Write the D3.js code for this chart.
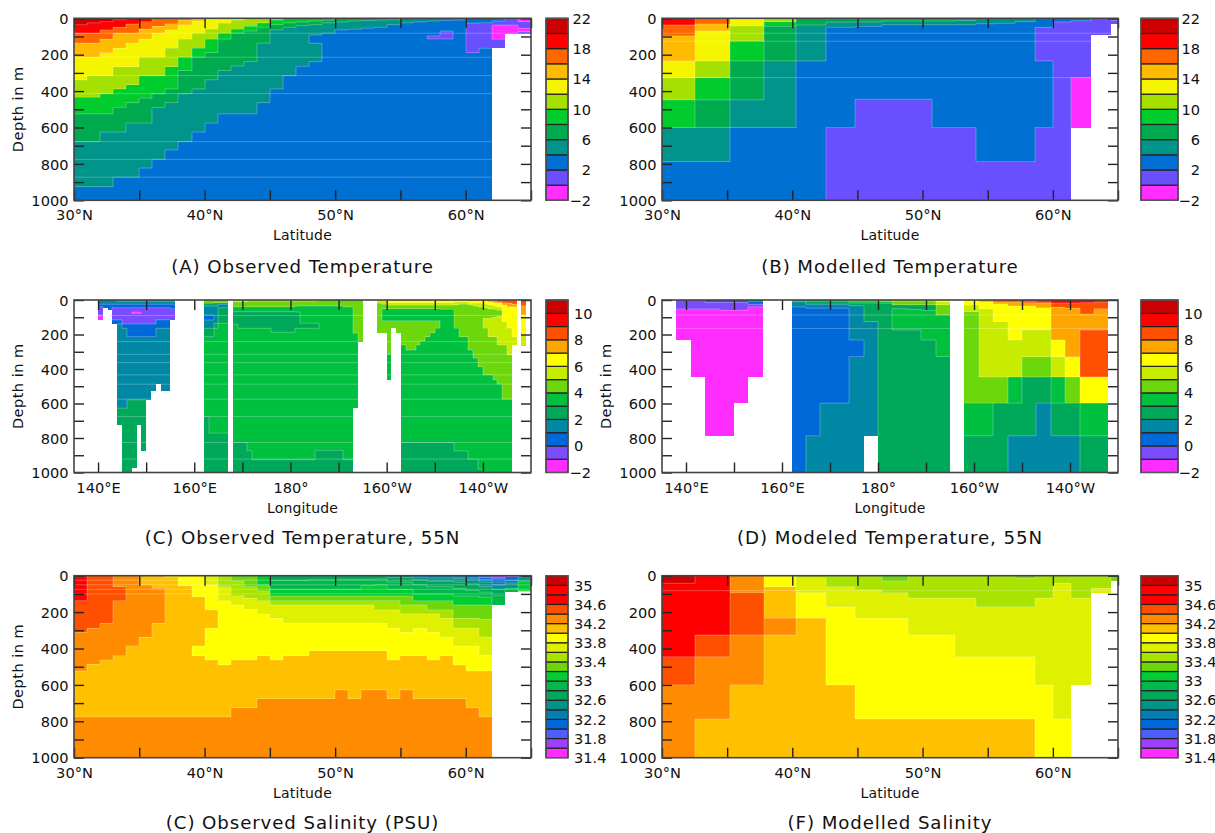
<!DOCTYPE html>
<html><head><meta charset="utf-8">
<script src="https://cdnjs.cloudflare.com/ajax/libs/d3/7.8.5/d3.min.js"></script>
<style>html,body{margin:0;padding:0;background:#fff}svg{display:block}text{font-family:"DejaVu Sans",sans-serif;fill:#111}</style>
</head><body><svg id="c" width="1215" height="833"></svg>
<script>
// colour classes
const tempLevels=[-2,0,2,4,6,8,10,12,14,16,18,20,22];
const tempColors=["#ff2dff","#6a4fff","#0070d2","#00948a","#00ab50","#00cc2d","#a5e100","#f5f500","#ffbb00","#ff6600","#ff0000","#cc0000"];
const tempLabels=[-2,2,6,10,14,18,22];
const sectLevels=[-2,-1,0,1,2,3,4,5,6,7,8,9,10,11];
const sectColors=["#ff2dff","#7b4dff","#0068d8","#0088a5","#00a85a","#00c040","#6cd80c","#c8ec00","#ffff00","#ffa500","#ff5000","#ff0000","#cc0000"];
const sectLabels=[-2,0,2,4,6,8,10];
const saltLevels=[31.4,31.6,31.8,32,32.2,32.4,32.6,32.8,33,33.2,33.4,33.6,33.8,34,34.2,34.4,34.6,34.8,35,35.2];
const saltColors=["#ff2dff","#a040ff","#4f5fff","#0068d8","#0080b4","#009488","#00a85a","#00b84c","#00cc33","#6cd80c","#a8e400","#dff000","#ffff00","#ffc000","#ff8c00","#ff5000","#ff0000","#ff0000","#cc0000"];
const saltLabels=[31.4,31.8,32.2,32.6,33,33.4,33.8,34.2,34.6,35];

// grid edges
const obsLatEdges=[30,31,32,33,34,35,36,37,38,39,40,41,42,43,44,45,46,47,48,49,50,51,52,53,54,55,56,57,58,59,60,61,62,63,64,65];
const modelLatEdges=[30,32.5,35.24,37.8,40.3,42.6,44.8,46.9,48.9,50.7,52.5,54.1,55.6,57.1,58.6,60,61.4,62.9,64.5,65];
const obsLonEdges=[135,140,141,142,143,144,145,146,147,148,149,150,151,152,153,155,156,162,163,164,165,167,168,169,171,172,176,181,182,185,186,191,193,194,195,198,199,200,201,202,203,204,206,207,208,209,210,211,214,215,217,218,219,220,221,222,223,224,225,226,227,228,229,230];
const modelLonEdges=[135,138,141,144,147,150,153,156,162,165,168,171,174,177,180,183,186,189,192,195,198,201,204,207,210,213,216,219,222,225,228,230];

// each column: value, bottom depth, value, bottom depth ...
const obsTemp=[
[21,35,19,82,17,137,15,214,13,338,11,435,9,525,7,677,5,925,3,1000],
[21,25,19,82,17,137,15,214,13,315,11,435,9,525,7,677,5,925,3,1000],
[21,18,19,64,17,115,15,188,13,315,11,414,9,525,7,625,5,925,3,1000],
[21,8,19,50,17,82,15,165,13,265,11,388,9,490,7,625,5,873,3,1000],
[19,32,17,82,15,137,13,265,11,364,9,463,7,576,5,873,3,1000],
[19,18,17,60,15,115,13,214,11,315,9,439,7,576,5,823,3,1000],
[17,45,15,82,13,214,11,315,9,414,7,490,5,775,3,1000],
[17,30,15,64,13,165,11,265,9,388,7,463,5,723,3,1000],
[17,10,15,36,13,115,11,214,9,287,7,414,5,677,3,1000],
[15,15,13,82,11,165,9,214,7,388,5,625,3,1000],
[13,60,11,115,9,188,7,338,5,576,3,1000],
[13,27,11,82,9,115,7,287,5,525,3,1000],
[13,10,11,60,9,82,7,262,5,525,3,1000],
[11,45,9,70,7,238,5,525,3,1000],
[11,25,9,50,7,137,5,463,3,1000],
[11,10,9,35,7,64,5,388,3,1000],
[9,25,7,50,5,315,3,1000],
[9,20,7,40,5,264,3,1000],
[9,15,7,35,5,92,3,137,5,238,3,1000],
[9,10,7,25,5,82,3,1000],
[7,20,5,64,3,1000],
[7,15,5,60,3,1000],
[7,12,5,55,3,1000],
[7,10,5,50,3,1000],
[7,8,5,35,3,1000],
[5,25,3,1000],
[5,20,3,1000],
[5,15,3,97,1,113,3,1000],
[5,12,3,70,1,113,3,1000],
[5,10,3,1000],
[3,27,1,189,3,1000],
[3,24,1,165,3,1000],
[3,15,1,37,-1,115,1,161],
[1,37,-1,85],
[-1,18,1,55,-1,73,1,85]];
const modelTemp=[
[19,37,17,97,15,234,13,326,11,448,9,600,5,787,3,1000],
[17,31,15,70,13,234,11,326,9,448,7,600,5,787,3,1000],
[13,42,11,126,9,234,7,448,5,600,3,1000],
[11,18,9,45,7,234,5,600,3,1000],
[7,37,5,234,3,1000],
[7,22,5,50,3,600,1,1000],
[7,20,5,45,3,445,1,1000],
[7,15,5,35,3,445,1,1000],
[7,15,5,35,3,445,1,1000],
[7,15,5,35,3,600,1,1000],
[7,12,5,35,3,600,1,1000],
[5,30,3,787,1,1000],
[5,28,3,787,1,1000],
[5,18,3,787,1,1000],
[3,50,1,234,3,600,1,1000],
[3,20,1,1000],
[3,13,1,326,-1,600],
[1,90],
[3,12,1,30]];
const obsSection=[
[],
[1.5,25,.5,38,-.5,87,-1.5,116],
[1.5,25,.5,44],
[1.5,25,.5,60],
[1.5,25,.5,44,-.5,115,.5,139],
[2.5,8,1.5,25,.5,44,-.5,115,.5,139,1.5,627,2.5,724],
[2.5,8,1.5,25,.5,44,-.5,139,.5,164,1.5,627,2.5,1000],
[2.5,8,1.5,25,.5,44,-.5,139,.5,212,1.5,579,2.5,1000],
[2.5,8,1.5,25,.5,44,-.5,70,-1.5,78,-.5,139,.5,212,1.5,579,2.5,975],
[2.5,8,1.5,25,.5,44,-.5,70,-1.5,78,-.5,139,.5,212,1.5,579,2.5,724],
[2.5,8,1.5,25,.5,44,-.5,139,.5,212,1.5,579,2.5,874],
[2.5,8,1.5,25,.5,44,-.5,139,.5,212,1.5,579],
[2.5,8,1.5,25,.5,44,-.5,139,.5,212,1.5,525],
[2.5,8,1.5,25,.5,44,-.5,115,.5,164,1.5,488],
[2.5,8,1.5,25,.5,44,-.5,115,.5,164,1.5,527],
[2.5,8,1.5,25,.5,50,-.5,115],
[],
[4.5,20,2.5,35,1.5,87,.5,116,1.5,164,2.5,212,3.5,675,2.5,1000],
[4.5,20,2.5,35,1.5,87,.5,116,1.5,164,2.5,212,3.5,772,2.5,1000],
[4.5,15,2.5,35,1.5,135,2.5,164,3.5,772,2.5,1000],
[4.5,15,2.5,25,1.5,45,2.5,135,3.5,772,2.5,1000],
[],
[5.5,10,4.5,39,3.5,68,2.5,140,3.5,826,2.5,1000],
[5.5,10,4.5,39,3.5,68,2.5,164,3.5,826,2.5,1000],
[5.5,8,4.5,39,3.5,68,2.5,164,3.5,874,2.5,1000],
[5.5,8,4.5,39,3.5,68,2.5,164,3.5,926,2.5,1000],
[5.5,8,4.5,39,3.5,68,2.5,187,3.5,926,2.5,1000],
[5.5,8,4.5,35,3.5,70,2.5,164,3.5,926,2.5,1000],
[5.5,8,4.5,35,3.5,135,2.5,164,3.5,926,2.5,1000],
[5.5,5,4.5,35,3.5,135,2.5,164,3.5,872,2.5,1000],
[4.5,35,3.5,872,2.5,1000],
[4.5,40,3.5,926,2.5,1000],
[4.5,193,3.5,627],
[4.5,241],
[],
[6.5,5,5.5,20,4.5,189],
[6.5,5,5.5,25,4.5,50,3.5,120,4.5,189],
[6.5,15,5.5,30,4.5,50,3.5,120,4.5,315,3.5,463],
[6.5,15,5.5,30,4.5,50,3.5,120,4.5,164],
[6.5,15,5.5,30,4.5,50,3.5,120,4.5,189],
[6.5,15,5.5,30,4.5,50,3.5,120,4.5,260,3.5,826,2.5,1000],
[6.5,15,5.5,30,4.5,50,3.5,120,4.5,290,3.5,826,2.5,1000],
[6.5,15,5.5,30,4.5,50,3.5,120,4.5,260,3.5,826,2.5,1000],
[6.5,15,5.5,30,4.5,50,3.5,120,4.5,237,3.5,826,2.5,1000],
[6.5,15,5.5,30,4.5,50,3.5,120,4.5,212,3.5,826,2.5,1000],
[6.5,15,5.5,30,4.5,50,3.5,120,4.5,189,3.5,826,2.5,1000],
[6.5,15,5.5,30,4.5,50,3.5,120,4.5,164,3.5,826,2.5,1000],
[6.5,15,5.5,30,4.5,55,3.5,826,2.5,1000],
[6.5,12,5.5,27,4.5,164,3.5,875,2.5,1000],
[6.5,10,5.5,25,4.5,212,3.5,875,2.5,1000],
[7.5,5,6.5,20,5.5,30,4.5,290,3.5,924,2.5,1000],
[7.5,5,6.5,20,5.5,35,4.5,338,3.5,924,2.5,1000],
[7.5,5,6.5,20,5.5,40,4.5,386,3.5,980,2.5,1000],
[7.5,8,6.5,25,5.5,45,4.5,106,5.5,164,4.5,434,3.5,1000],
[7.5,12,6.5,30,5.5,50,4.5,106,5.5,212,4.5,434,3.5,1000],
[8.5,5,7.5,15,6.5,35,5.5,55,4.5,100,5.5,212,4.5,463,3.5,1000],
[8.5,10,7.5,20,6.5,40,5.5,60,4.5,95,5.5,260,4.5,488,3.5,1000],
[8.5,15,7.5,28,6.5,125,5.5,260,4.5,575,3.5,1000],
[8.5,20,7.5,38,6.5,164,5.5,318,4.5,575,3.5,1000],
[8.5,25,7.5,40,6.5,212,5.5,260],
[],
[8.5,33,7.5,87,6.5,203,5.5,266],
[]];
const modelSection=[
[],
[-.5,52,-1.5,232],
[-.5,52,-1.5,446],
[.5,14,-.5,52,-1.5,787],
[.5,14,-.5,60,-1.5,787],
[.5,14,-.5,60,-1.5,598],
[2.5,8,.5,25,-.5,40,-1.5,446],
[],
[3.5,10,1.5,40,.5,1000],
[3.5,8,2.5,25,1.5,48,.5,787,1.5,1000],
[3.5,8,2.5,25,1.5,48,.5,598,1.5,1000],
[3.5,8,2.5,25,1.5,48,.5,598,1.5,1000],
[4.5,8,3.5,18,2.5,33,1.5,232,.5,328,1.5,1000],
[4.5,8,3.5,18,2.5,125,1.5,787],
[4.5,10,3.5,20,2.5,1000],
[5.5,8,4.5,27,2.5,50,3.5,174,2.5,1000],
[5.5,8,4.5,27,2.5,55,3.5,174,2.5,1000],
[5.5,8,4.5,27,2.5,60,3.5,232,2.5,1000],
[6.5,10,5.5,27,4.5,87,3.5,328,2.5,1000],
[],
[6.5,29,5.5,68,4.5,598,3.5,787,2.5,1000],
[7.5,10,6.5,52,5.5,446,4.5,598,3.5,787,2.5,1000],
[8.5,10,7.5,22,6.5,125,5.5,446,4.5,598,2.5,1000],
[8.5,12,7.5,35,6.5,232,5.5,446,3.5,598,2.5,787,1.5,1000],
[9.5,5,8.5,15,7.5,35,6.5,174,5.5,328,4.5,446,2.5,787,1.5,1000],
[9.5,10,8.5,18,7.5,45,6.5,174,5.5,328,4.5,446,2.5,598,1.5,1000],
[9.5,18,8.5,43,7.5,232,6.5,328,5.5,446,3.5,598,2.5,787,1.5,1000],
[9.5,18,8.5,48,7.5,328,6.5,446,4.5,598,2.5,787,1.5,1000],
[9.5,15,8.5,82,7.5,174,8.5,446,6.5,598,3.5,787,2.5,1000],
[9.5,12,8.5,50,7.5,174,8.5,446,6.5,598,3.5,787,2.5,1000],
[]];
const obsSalt=[
[34.7,137,34.5,311,34.3,524,34.1,775,34.3,1000],
[34.5,290,34.3,487,34.1,775,34.3,1000],
[34.5,262,34.3,463,34.1,775,34.3,1000],
[34.3,60,34.5,137,34.3,439,34.1,775,34.3,1000],
[34.3,386,34.1,775,34.3,1000],
[34.1,51,34.3,339,34.1,775,34.3,1000],
[34.1,70,34.3,262,34.1,775,34.3,1000],
[33.9,8,34.1,775,34.3,1000],
[33.9,55,34.1,775,34.3,1000],
[33.9,115,34.1,386,33.9,439,34.1,775,34.3,1000],
[33.7,50,33.9,188,34.1,289,33.9,463,34.1,775,34.3,1000],
[33.5,60,33.7,137,33.9,490,34.1,775,34.3,1000],
[33.3,30,33.5,110,33.7,161,33.9,463,34.1,725,34.3,1000],
[33.3,60,33.5,125,33.7,185,33.9,463,34.1,725,34.3,1000],
[33.1,50,33.3,85,33.5,137,33.7,210,33.9,439,34.1,675,34.3,1000],
[32.7,25,32.9,75,33.1,112,33.3,137,33.5,161,33.7,235,33.9,463,34.1,675,34.3,1000],
[32.7,25,32.9,75,33.1,112,33.3,137,33.5,161,33.7,262,33.9,439,34.1,675,34.3,1000],
[32.7,25,32.9,75,33.1,112,33.3,137,33.5,161,33.7,262,33.9,439,34.1,675,34.3,1000],
[32.7,22,32.9,75,33.1,112,33.3,137,33.5,161,33.7,262,33.9,412,34.1,675,34.3,1000],
[32.7,22,32.9,75,33.1,112,33.3,137,33.5,161,33.7,262,33.9,412,34.1,675,34.3,1000],
[32.7,20,32.9,75,33.1,112,33.3,137,33.5,161,33.7,262,33.9,412,34.1,627,34.3,1000],
[32.7,20,32.9,75,33.1,112,33.3,137,33.5,161,33.7,262,33.9,412,34.1,675,34.3,1000],
[32.7,20,32.9,55,33.1,112,33.3,137,33.5,161,33.7,262,33.9,412,34.1,627,34.3,1000],
[32.7,18,32.9,50,33.1,112,33.3,137,33.5,188,33.7,262,33.9,412,34.1,627,34.3,1000],
[32.5,10,32.7,35,32.9,75,33.1,112,33.3,137,33.5,188,33.7,289,33.9,463,34.1,675,34.3,1000],
[32.5,10,32.7,35,32.9,75,33.1,112,33.3,161,33.5,210,33.7,311,33.9,439,34.1,627,34.3,1000],
[32.3,8,32.5,22,32.7,50,32.9,100,33.1,137,33.3,161,33.5,210,33.7,289,33.9,439,34.1,675,34.3,1000],
[32.3,12,32.5,30,32.7,60,32.9,100,33.1,137,33.3,188,33.5,210,33.7,311,33.9,463,34.1,675,34.3,1000],
[32.3,12,32.5,30,32.7,60,32.9,100,33.1,137,33.3,188,33.5,235,33.7,337,33.9,439,34.1,675,34.3,1000],
[32.1,8,32.3,15,32.5,35,32.7,70,32.9,112,33.1,161,33.3,235,33.5,289,33.7,386,33.9,490,34.1,675,34.3,1000],
[32.1,10,32.3,18,32.5,45,32.7,80,32.9,112,33.1,161,33.3,235,33.5,289,33.7,386,33.9,523,34.1,725,34.3,1000],
[31.9,10,32.1,20,32.3,35,32.5,60,32.7,90,32.9,118,33.1,161,33.3,240,33.5,337,33.7,437,33.9,523,34.1,775,34.3,1000],
[31.7,8,31.9,18,32.1,35,32.3,50,32.5,75,32.7,110,32.9,161],
[31.7,5,32.1,25,32.3,40,32.5,70,32.9,88],
[32.1,6,32.5,30,33.1,82,33.7,88]];
const modelSalt=[
[35.1,42,34.9,445,34.5,600,34.3,1000],
[34.9,326,34.5,445,34.3,787,34.1,1000],
[34.3,93,34.5,326,34.3,600,34.1,1000],
[33.9,60,34.1,234,34.3,326,34.1,1000],
[33.5,10,33.7,93,33.9,234,34.1,1000],
[33.5,60,33.7,170,33.9,600,34.1,1000],
[33.5,78,33.7,234,33.9,787,34.1,1000],
[33.3,28,33.5,93,33.7,234,33.9,787,34.1,1000],
[33.5,124,33.7,326,33.9,787,34.1,1000],
[33.5,124,33.7,326,33.9,787,34.1,1000],
[33.5,124,33.7,445,33.9,787,34.1,1000],
[33.5,170,33.7,445,33.9,787,34.1,1000],
[33.5,170,33.7,445,33.9,787,34.1,1000],
[33.3,15,33.5,170,33.7,445,33.9,787,34.1,1000],
[33.5,124,33.7,600,33.9,1000],
[33.5,42,33.7,787,33.9,1000],
[33.5,124,33.7,600],
[33.5,70,33.7,97],
[33.3,28]];

// horizontal seams left by the plotting device
const obsTempSeams=[82,214,315,414,678,775,873];
const modelTempSeams=[82,126,326];
const obsSectionSeams=[90,241,315,363,434,488,575,675,826,922];
const modelSectionSeams=[87,165];
const obsSaltSeams=[25,50,75,100];
const modelSaltSeams=[82];

const depthTicks=[0,100,200,300,400,500,600,700,800,900,1000];
const latTicks=[30,35,40,45,50,55,60,65];
const lonTicks=[140,150,160,170,180,190,200,210,220];
const fmtLat=d=>d%10===0&&d<65?d+"°N":"";
const fmtLon=d=>d===180?"180°":d%20!==0?"":d<180?d+"°E":(360-d)+"°W";

const svg=d3.select("#c");
function panel(o){
  const g=svg.append("g");
  const x=d3.scaleLinear().domain(o.xDomain).range([o.left,o.right]);
  const y=d3.scaleLinear().domain([0,1000]).range([o.top,o.bottom]);
  const col=d3.scaleThreshold().domain(o.levels.slice(1,-1)).range(o.colors);
  const cells=[];
  o.cols.forEach((c,i)=>{let d0=0;for(let j=0;j<c.length;j+=2){cells.push({i,x0:o.edges[i],x1:o.edges[i+1],d0,d1:c[j+1],v:c[j]});d0=c[j+1];}});
  const px=v=>Math.round(x(v));
  g.append("g").selectAll("rect").data(cells).join("rect")
    .attr("x",d=>px(d.x0)).attr("width",d=>px(d.x1)-px(d.x0))
    .attr("y",d=>y(d.d0)).attr("height",d=>Math.max(0,y(d.d1)-y(d.d0)))
    .attr("fill",d=>col(d.v)).attr("shape-rendering","crispEdges");
  // pale seams along contours and grid rows
  const seg=[];
  const at=(i,d)=>{const c=o.cols[i];if(!c)return null;let d0=0;for(let j=0;j<c.length;j+=2){if(d>=d0&&d<c[j+1])return col(c[j]);d0=c[j+1];}return null;};
  o.cols.forEach((c,i)=>{
    const a=px(o.edges[i]),b=px(o.edges[i+1]);
    for(let j=1;j<c.length-2;j+=2){if(col(c[j-1])!==col(c[j+1]))seg.push([a,y(c[j]),b,y(c[j])]);}
    o.seams.forEach(s=>{if(at(i,s))seg.push([a,y(s),b,y(s)]);});
    if(i+1<o.cols.length){
      const bp=Array.from(new Set([0,...c.filter((_,k)=>k%2),...o.cols[i+1].filter((_,k)=>k%2)])).sort((p,q)=>p-q);
      for(let k=0;k<bp.length-1;k++){const m=(bp[k]+bp[k+1])/2,p=at(i,m),q=at(i+1,m);
        if(p&&q&&p!==q)seg.push([b,y(bp[k]),b,y(bp[k+1])]);}
    }
  });
  g.append("path").attr("d",seg.map(s=>`M${s[0]},${s[1]}L${s[2]},${s[3]}`).join(""))
    .attr("fill","none").attr("stroke","#fff").attr("stroke-opacity",.25).attr("stroke-width",1);
  // axes with inward ticks
  const fs=14.6;
  const style=s=>{s.select(".domain").attr("stroke","none");s.selectAll("line").attr("stroke","#222").attr("stroke-width",1.4);
    s.selectAll("text").attr("font-size",fs).attr("fill","#111").attr("font-family","DejaVu Sans");};
  g.append("g").attr("transform",`translate(0,${o.bottom})`).call(d3.axisBottom(x).tickValues(o.xTicks).tickSizeInner(-10).tickSizeOuter(0).tickPadding(0).tickFormat(o.xFmt)).call(style)
    .selectAll("text").attr("dy",0).attr("y",20);
  g.append("g").attr("transform",`translate(0,${o.top})`).call(d3.axisTop(x).tickValues(o.xTicks).tickSizeInner(-10).tickSizeOuter(0).tickFormat("")).call(style);
  g.append("g").attr("transform",`translate(${o.left},0)`).call(d3.axisLeft(y).tickValues(depthTicks).tickSizeInner(-10).tickSizeOuter(0).tickPadding(0).tickFormat(d=>d%200===0?d:"")).call(style)
    .selectAll("text").attr("x",-5.5).attr("dy","0.36em");
  g.append("g").attr("transform",`translate(${o.right},0)`).call(d3.axisRight(y).tickValues(depthTicks).tickSizeInner(-10).tickSizeOuter(0).tickFormat("")).call(style);
  g.append("rect").attr("x",o.left).attr("y",o.top).attr("width",o.right-o.left).attr("height",o.bottom-o.top)
    .attr("fill","none").attr("stroke","#444").attr("stroke-width",1.6);
  const cx=(o.left+o.right)/2;
  g.append("text").attr("x",cx).attr("y",o.bottom+40).attr("text-anchor","middle").attr("font-size",14).attr("letter-spacing",.15).text(o.xLabel);
  g.append("text").attr("x",cx).attr("y",o.bottom+o.titleDy).attr("text-anchor","middle").attr("font-size",18.2).attr("letter-spacing",.9).text(o.title);
  if(o.depthX)g.append("text").attr("transform",`translate(${o.depthX},${(o.top+o.bottom)/2}) rotate(-90)`).attr("text-anchor","middle").attr("font-size",14.5).attr("letter-spacing",.5).text("Depth in m");
  // colour bar
  const lv=o.levels,b=d3.scaleLinear().domain([lv[0],lv[lv.length-1]]).range([o.bottom,o.top]);
  const cb=g.append("g");
  cb.selectAll("rect").data(o.colors).join("rect").attr("x",o.barX).attr("width",o.barW)
    .attr("y",(d,i)=>b(lv[i+1])).attr("height",(d,i)=>b(lv[i])-b(lv[i+1])).attr("fill",d=>d)
    .attr("stroke","#222").attr("stroke-width",1.2);
  cb.append("rect").attr("x",o.barX).attr("y",o.top).attr("width",o.barW).attr("height",o.bottom-o.top).attr("fill","none").attr("stroke","#555").attr("stroke-width",1.4);
  cb.selectAll("text").data(o.labels).join("text")
    .attr("x",d=>(d<0||o.anchor==="end")?o.labelEnd:o.labelStart)
    .attr("text-anchor",d=>(d<0||o.anchor==="end")?"end":"start")
    .attr("y",d=>b(d)).attr("dy","0.36em").attr("font-size",fs)
    .text(d=>d<0?"−"+Math.abs(d):d);
}
const L={left:74,right:531,barX:546,barW:22,labelStart:574,labelEnd:591};
const R={left:662,right:1118,barX:1141,barW:37,labelStart:1184,labelEnd:1200};
const latCommon={xDomain:[30,65],xTicks:latTicks,xFmt:fmtLat,xLabel:"Latitude"};
const lonCommon={xDomain:[135,230],xTicks:lonTicks,xFmt:fmtLon,xLabel:"Longitude"};
panel({...L,...latCommon,top:18.3,bottom:200.3,titleDy:72.5,edges:obsLatEdges,cols:obsTemp,seams:obsTempSeams,levels:tempLevels,colors:tempColors,labels:tempLabels,anchor:"end",title:"(A) Observed Temperature",depthX:23});
panel({...R,...latCommon,top:18.3,bottom:200.3,titleDy:72.5,edges:modelLatEdges,cols:modelTemp,seams:modelTempSeams,levels:tempLevels,colors:tempColors,labels:tempLabels,anchor:"end",title:"(B) Modelled Temperature"});
panel({...L,...lonCommon,top:300,bottom:472.5,titleDy:71.5,edges:obsLonEdges,cols:obsSection,seams:obsSectionSeams,levels:sectLevels,colors:sectColors,labels:sectLabels,anchor:"start",title:"(C) Observed Temperature, 55N",depthX:23});
panel({...R,...lonCommon,top:300,bottom:472.5,titleDy:71.5,edges:modelLonEdges,cols:modelSection,seams:modelSectionSeams,levels:sectLevels,colors:sectColors,labels:sectLabels,anchor:"start",title:"(D) Modeled Temperature, 55N",depthX:611});
panel({...L,...latCommon,top:575.7,bottom:757.7,titleDy:71.5,edges:obsLatEdges,cols:obsSalt,seams:obsSaltSeams,levels:saltLevels,colors:saltColors,labels:saltLabels,anchor:"start",title:"(C) Observed Salinity (PSU)",depthX:23});
panel({...R,...latCommon,top:575.7,bottom:757.7,titleDy:71.5,edges:modelLatEdges,cols:modelSalt,seams:modelSaltSeams,levels:saltLevels,colors:saltColors,labels:saltLabels,anchor:"start",title:"(F) Modelled Salinity"});
</script></body></html>
